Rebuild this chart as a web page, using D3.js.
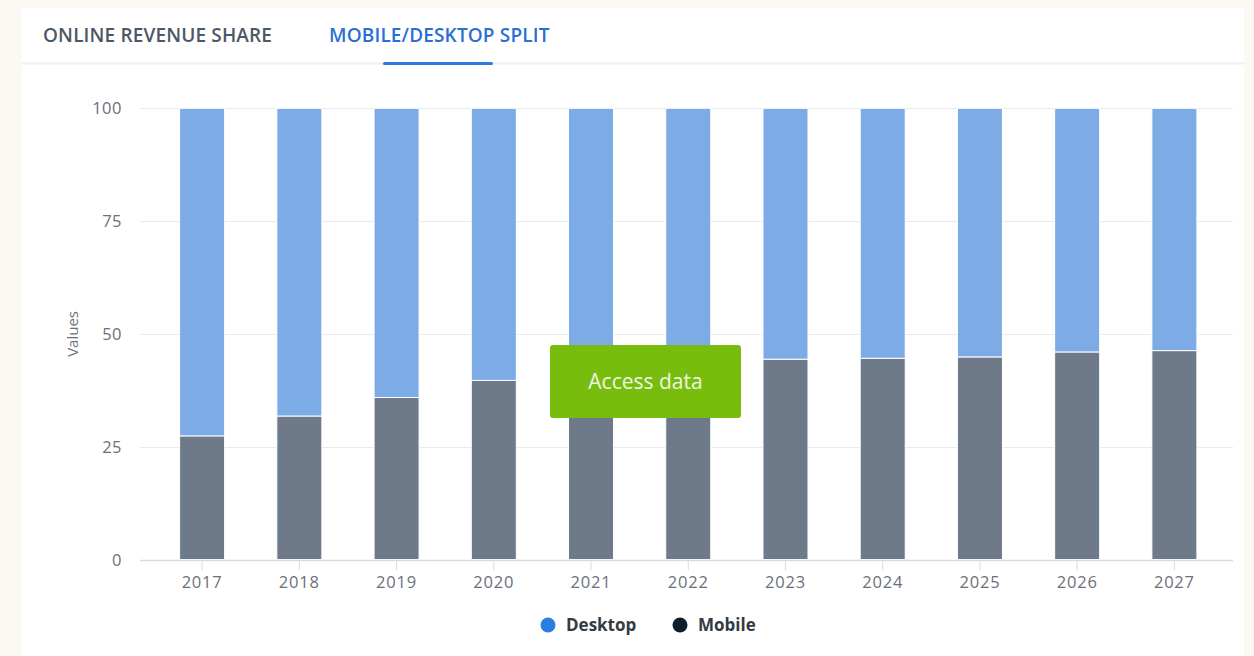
<!DOCTYPE html>
<html>
<head>
<meta charset="utf-8">
<script src="https://cdn.jsdelivr.net/npm/d3@7"></script>
<style>
  html, body { margin: 0; padding: 0; background: #fcf9f3; }
  svg { display: block; }
</style>
</head>
<body>
<svg id="chart" width="1254" height="656"></svg>
<script>
// Share of online revenue by device, in percent
const years = ["2017", "2018", "2019", "2020", "2021", "2022", "2023", "2024", "2025", "2026", "2027"];
const mobile = [27.4, 31.8, 35.9, 39.7, 42.0, 43.6, 44.4, 44.6, 44.9, 46.0, 46.3];
const desktop = [72.6, 68.2, 64.1, 60.3, 58.0, 56.4, 55.6, 55.4, 55.1, 54.0, 53.7];
const yTicks = [0, 25, 50, 75, 100];
const tabs = ["ONLINE REVENUE SHARE", "MOBILE/DESKTOP SPLIT"];
const seriesNames = ["Desktop", "Mobile"];

const colors = {
  desktopBar: "#7dabe6",
  mobileBar: "#6e7a89",
  desktopDot: "#2a7de1",
  mobileDot: "#0f1e2c"
};

const svg = d3.select("#chart");
const font = "'Open Sans', 'Noto Sans', sans-serif";

// card
svg.append("rect").attr("x", 22).attr("y", 8).attr("width", 1222).attr("height", 660)
  .attr("fill", "#ffffff");
svg.append("line").attr("x1", 22).attr("x2", 1244).attr("y1", 63.5).attr("y2", 63.5)
  .attr("stroke", "#eef0f3").attr("stroke-width", 2);

// tabs
const tabX = [43, 329];
svg.selectAll("text.tab").data(tabs).join("text")
  .attr("class", "tab")
  .attr("x", (d, i) => tabX[i]).attr("y", 42)
  .attr("font-family", font).attr("font-size", 19).attr("font-weight", 600)
  .attr("letter-spacing", 0.15)
  .attr("fill", (d, i) => i === 1 ? "#2b6fd4" : "#4d5866")
  .text(d => d);
svg.append("rect").attr("x", 383).attr("y", 62).attr("width", 110).attr("height", 3)
  .attr("rx", 1.5).attr("fill", "#2b7be0");

// scales
const x = d3.scaleBand().domain(years).range([153.5, 1223])
  .paddingInner(0.537).paddingOuter(0.2685);
const y = d3.scaleLinear().domain([0, 100]).range([559.5, 108.3]);

// grid
svg.append("g").selectAll("line").data(yTicks.filter(t => t > 0)).join("line")
  .attr("x1", 140).attr("x2", 1233)
  .attr("y1", d => Math.round(y(d)) + 0.5).attr("y2", d => Math.round(y(d)) + 0.5)
  .attr("stroke", "#e6e9ee").attr("stroke-width", 1);

// y axis labels
svg.append("g").selectAll("text").data(yTicks).join("text")
  .attr("x", 122).attr("y", d => y(d) + 6)
  .attr("text-anchor", "end")
  .attr("font-family", font).attr("font-size", 16.5).attr("fill", "#6b7079")
  .attr("letter-spacing", 0.5)
  .text(d => d);

svg.append("text")
  .attr("transform", `translate(78,${y(50)}) rotate(-90)`)
  .attr("text-anchor", "middle")
  .attr("font-family", font).attr("font-size", 15).attr("fill", "#6b7079")
  .text("Values");

// stacked bars
const rows = years.map((yr, i) => ({ year: yr, Mobile: mobile[i], Desktop: desktop[i] }));
const stack = d3.stack().keys(["Mobile", "Desktop"])(rows);
const fillFor = { Mobile: colors.mobileBar, Desktop: colors.desktopBar };

svg.append("g").selectAll("g").data(stack).join("g")
  .attr("fill", d => fillFor[d.key])
  .selectAll("rect").data(d => d).join("rect")
  .attr("x", d => x(d.data.year))
  .attr("width", x.bandwidth())
  .attr("y", d => y(d[1]))
  .attr("height", d => y(d[0]) - y(d[1]))
  .attr("stroke", "#ffffff").attr("stroke-width", 1);

// x axis
const xAxis = svg.append("g").attr("transform", `translate(0,${Math.round(y(0)) + 0.5})`);
xAxis.append("line").attr("x1", 140).attr("x2", 1233)
  .attr("stroke", "#d5dbe6").attr("stroke-width", 1.5);
xAxis.selectAll("line.tick").data(years).join("line")
  .attr("class", "tick")
  .attr("x1", d => x(d) + x.bandwidth() / 2).attr("x2", d => x(d) + x.bandwidth() / 2)
  .attr("y1", 0).attr("y2", 10)
  .attr("stroke", "#d5dbe6");
xAxis.selectAll("text").data(years).join("text")
  .attr("x", d => x(d) + x.bandwidth() / 2).attr("y", 27)
  .attr("text-anchor", "middle")
  .attr("font-family", font).attr("font-size", 16.5).attr("fill", "#6b7079")
  .attr("letter-spacing", 0.8)
  .text(d => d);

// access button
const btn = svg.append("g");
btn.append("rect").attr("x", 550).attr("y", 345).attr("width", 191).attr("height", 73)
  .attr("rx", 3).attr("fill", "#78bd0e");
btn.append("text").attr("x", 645.5).attr("y", 389)
  .attr("text-anchor", "middle")
  .attr("font-family", font).attr("font-size", 21).attr("fill", "#eef6e2")
  .text("Access data");

// legend
const legendX = [548, 680];
const legendDots = [colors.desktopDot, colors.mobileDot];
const legend = svg.append("g").selectAll("g").data(seriesNames).join("g")
  .attr("transform", (d, i) => `translate(${legendX[i]},625)`);
legend.append("circle").attr("r", 7.5).attr("fill", (d, i) => legendDots[i]);
legend.append("text").attr("x", 18).attr("y", 6)
  .attr("font-family", font).attr("font-size", 17).attr("font-weight", 700)
  .attr("fill", "#333a42")
  .text(d => d);
</script>
</body>
</html>
